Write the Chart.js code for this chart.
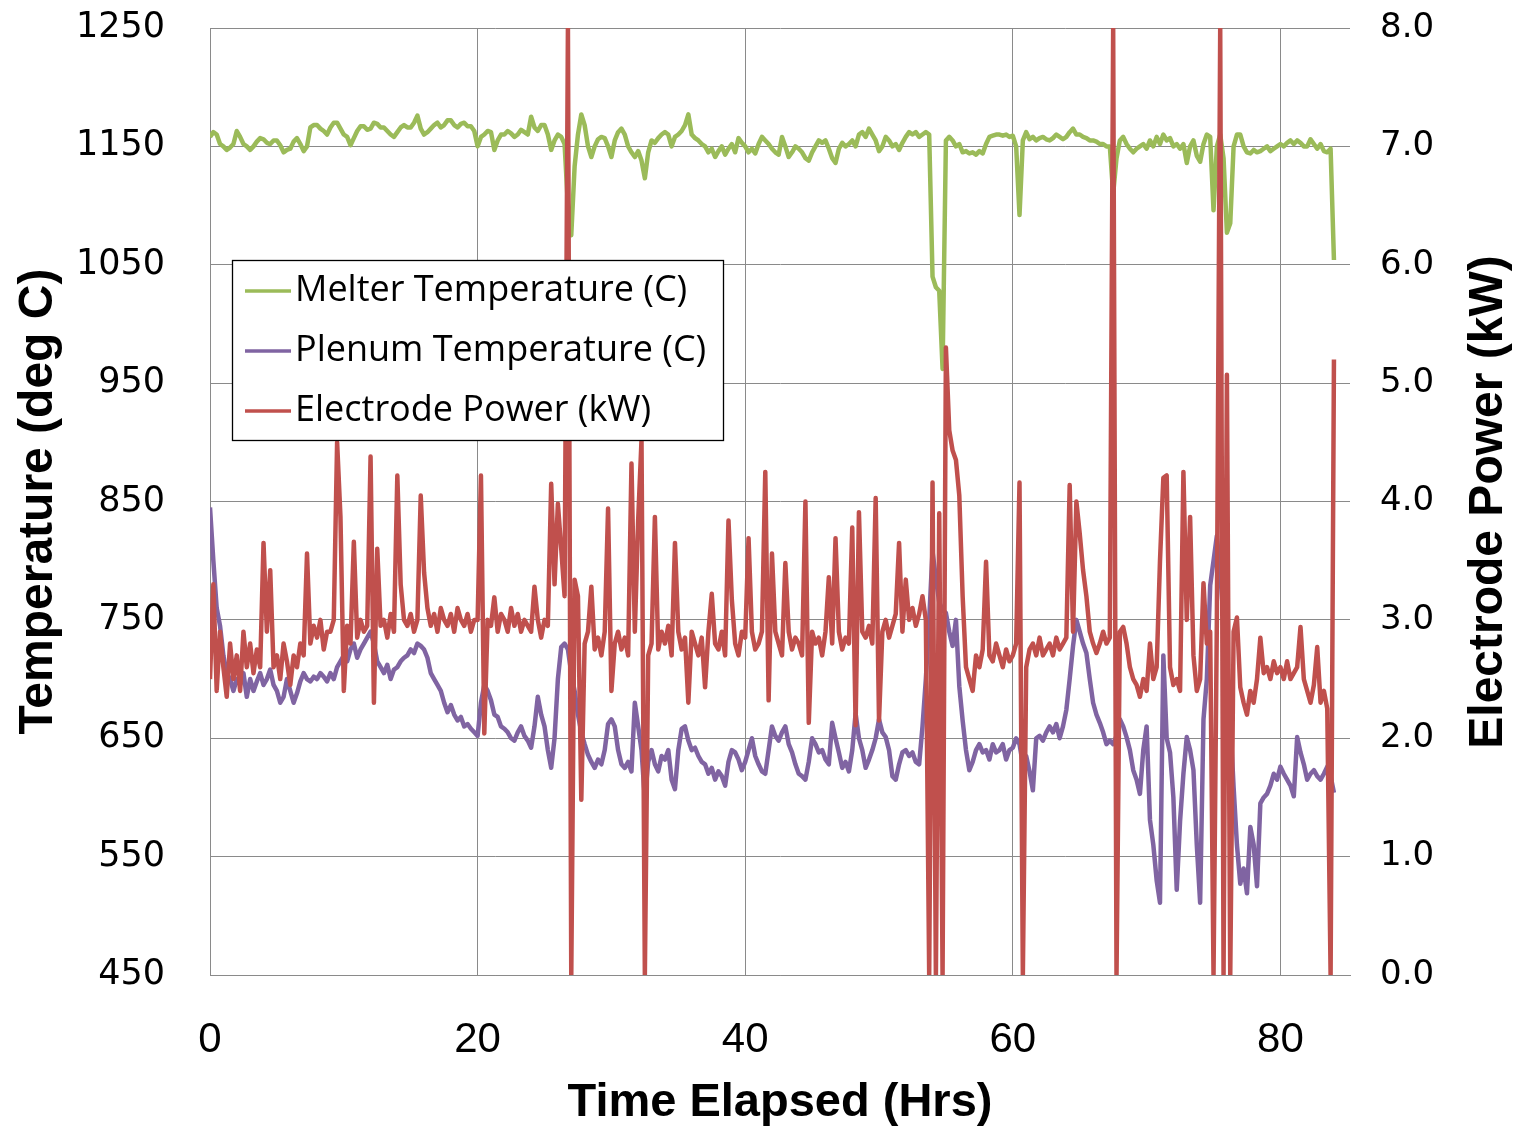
<!DOCTYPE html>
<html>
<head>
<meta charset="utf-8">
<script src="https://cdn.jsdelivr.net/npm/chart.js@4.4.1/dist/chart.umd.min.js"></script>
<style>
  body { margin: 0; background: #fff; }
  canvas { display: block; }
</style>
</head>
<body>
<canvas id="meltChart" width="1514" height="1133"></canvas>
<script>
// samples every 0.25 hr, one row = one hour
const STEP = 0.25;

const melterTemp = [
  1158, 1162, 1160, 1152,  1150, 1147, 1149, 1152,  1163, 1158, 1152, 1150,
  1147, 1150, 1154, 1157,  1156, 1153, 1152, 1155,  1155, 1151, 1145, 1147,
  1148, 1154, 1157, 1152,  1146, 1150, 1166, 1168,  1168, 1165, 1163, 1160,
  1166, 1170, 1170, 1165,  1160, 1158, 1151, 1157,  1163, 1167, 1167, 1164,
  1165, 1170, 1169, 1166,  1166, 1163, 1160, 1158,  1162, 1166, 1168, 1166,
  1166, 1170, 1176, 1165,  1160, 1162, 1165, 1168,  1170, 1166, 1168, 1172,
  1172, 1168, 1166, 1169,  1170, 1167, 1167, 1163,  1150, 1158, 1160, 1163,
  1162, 1147, 1155, 1160,  1160, 1163, 1161, 1158,  1160, 1164, 1162, 1160,
  1175, 1166, 1163, 1168,  1168, 1160, 1147, 1155,  1160, 1158, 1152, 1100,
  1075, 1133, 1160, 1177,  1168, 1150, 1141, 1150,  1156, 1158, 1157, 1150,
  1141, 1155, 1162, 1165,  1160, 1150, 1145, 1141,  1146, 1138, 1123, 1145,
  1155, 1153, 1157, 1160,  1162, 1160, 1150, 1158,  1160, 1163, 1168, 1177,
  1160, 1157, 1155, 1152,  1150, 1145, 1148, 1141,  1146, 1150, 1143, 1148,
  1152, 1145, 1157, 1153,  1150, 1145, 1148, 1144,  1152, 1158, 1155, 1152,
  1148, 1145, 1143, 1158,  1150, 1141, 1145, 1150,  1148, 1145, 1140, 1138,
  1145, 1150, 1155, 1153,  1155, 1148, 1140, 1136,  1148, 1153, 1150, 1152,
  1155, 1150, 1160, 1162,  1158, 1165, 1160, 1155,  1146, 1150, 1158, 1155,
  1150, 1152, 1147, 1153,  1158, 1162, 1160, 1162,  1158, 1160, 1162, 1160,
  1040, 1031, 1028, 962,   1155, 1158, 1155, 1150,  1152, 1145, 1146, 1144,
  1145, 1143, 1146, 1144,  1152, 1158, 1159, 1160,  1160, 1159, 1160, 1158,
  1159, 1150, 1092, 1155,  1162, 1156, 1158, 1155,  1157, 1158, 1156, 1155,
  1157, 1160, 1158, 1156,  1158, 1162, 1165, 1160,  1160, 1158, 1157, 1155,
  1155, 1154, 1152, 1152,  1150, 1150, 1110, 1140,  1155, 1158, 1152, 1148,
  1145, 1148, 1150, 1152,  1148, 1155, 1150, 1158,  1152, 1160, 1155, 1157,
  1150, 1152, 1148, 1152,  1136, 1150, 1155, 1142,  1137, 1152, 1160, 1158,
  1096, 1150, 1160, 1140,  1077, 1085, 1150, 1160,  1160, 1150, 1145, 1144,
  1147, 1145, 1146, 1148,  1150, 1146, 1148, 1150,  1152, 1150, 1153, 1155,
  1152, 1155, 1153, 1150,  1150, 1156, 1152, 1148,  1152, 1146, 1145, 1148,
  1054
];

const plenumTemp = [
  845, 800, 760, 745,  720, 705, 700, 690,  700, 695, 705, 685,
  700, 690, 698, 705,  695, 700, 708, 695,  690, 680, 685, 700,
  690, 680, 688, 698,  705, 700, 698, 702,  700, 705, 702, 698,
  705, 700, 710, 715,  720, 715, 725, 730,  718, 725, 730, 735,
  740, 730, 715, 710,  705, 712, 700, 708,  710, 715, 718, 720,
  725, 722, 730, 728,  725, 718, 705, 700,  695, 690, 680, 672,
  678, 670, 665, 668,  660, 662, 658, 655,  652, 680, 695, 690,
  682, 670, 668, 660,  658, 655, 650, 648,  655, 660, 652, 648,
  642, 660, 685, 670,  660, 640, 625, 650,  700, 727, 730, 725,
  705, 690, 670, 655,  645, 636, 630, 625,  632, 628, 640, 662,
  666, 660, 640, 628,  625, 630, 622, 680,  660, 640, 598, 630,
  640, 628, 622, 635,  632, 640, 615, 607,  640, 658, 660, 648,
  640, 642, 635, 630,  628, 620, 625, 615,  622, 618, 610, 630,
  640, 638, 632, 623,  630, 640, 650, 635,  628, 622, 620, 640,
  660, 652, 648, 655,  660, 645, 638, 628,  620, 618, 615, 630,
  650, 645, 638, 640,  632, 628, 663, 650,  638, 625, 630, 622,
  640, 671, 650, 640,  625, 632, 640, 650,  666, 655, 651, 640,
  618, 615, 628, 638,  640, 635, 638, 630,  628, 660, 700, 750,
  808, 785, 765, 758,  756, 740, 728, 750,  694, 665, 640, 623,
  630, 640, 645, 638,  640, 632, 645, 638,  640, 645, 632, 640,
  642, 650, 645, 628,  635, 622, 606, 650,  652, 648, 655, 660,
  655, 662, 650, 660,  674, 700, 728, 750,  740, 730, 722, 700,
  680, 670, 663, 655,  645, 648, 645, 652,  666, 660, 651, 640,
  623, 615, 603, 640,  660, 581, 560, 530,  511, 720, 650, 638,
  600, 522, 580, 620,  651, 640, 623, 560,  511, 666, 700, 779,
  800, 821, 790, 750,  700, 666, 609, 560,  527, 540, 519, 575,
  560, 525, 595, 600,  603, 610, 620, 615,  626, 620, 615, 610,
  601, 651, 638, 628,  615, 620, 623, 618,  615, 620, 626, 618,
  604
];

const electrodePower = [
  2.5, 3.3, 2.4, 2.9,     2.6, 2.35, 2.8, 2.5,    2.7, 2.4, 2.9, 2.6,
  2.8, 2.55, 2.75, 2.6,   3.65, 2.9, 3.42, 2.6,   2.7, 2.5, 2.8, 2.65,
  2.45, 2.7, 2.6, 2.8,    2.7, 3.56, 2.8, 2.95,   2.85, 3.0, 2.75, 2.9,
  2.9, 3.0, 4.5, 3.87,    2.4, 2.95, 2.8, 3.66,   2.85, 3.0, 2.9, 2.95,
  4.38, 2.3, 3.6, 2.95,   3.0, 2.85, 3.05, 2.9,   4.22, 3.3, 3.0, 2.95,
  3.05, 2.9, 3.0, 4.05,   3.4, 3.1, 2.95, 3.05,   2.9, 3.1, 3.0, 2.95,
  3.05, 2.9, 3.1, 3.0,    2.95, 3.05, 2.9, 3.0,   3.0, 4.22, 2.04, 3.0,
  2.95, 3.19, 2.9, 3.05,  3.0, 2.9, 3.1, 2.95,    3.05, 2.9, 3.0, 2.95,
  2.9, 3.28, 3.0, 2.85,   3.0, 2.95, 4.15, 3.3,   3.98, 3.6, 3.2, 8.0,
  0.0, 3.34, 3.2, 1.48,   2.8, 2.9, 3.28, 2.75,   2.85, 2.7, 2.9, 3.94,
  2.4, 2.8, 2.9, 2.75,    2.85, 2.7, 4.32, 2.9,   3.84, 4.52, 0.0, 2.7,
  2.8, 3.87, 2.75, 2.9,   2.8, 2.95, 2.7, 3.65,   2.9, 2.75, 2.85, 2.3,
  2.9, 2.8, 2.7, 2.85,    2.43, 2.9, 3.22, 2.8,   2.75, 2.9, 2.7, 3.84,
  3.17, 2.8, 2.7, 2.9,    2.85, 3.69, 2.9, 2.75,  2.8, 2.9, 4.25, 2.32,
  3.56, 2.9, 2.8, 2.7,    3.48, 2.9, 2.75, 2.85,  2.8, 2.7, 4.0, 2.13,
  2.9, 2.8, 2.85, 2.7,    2.9, 3.36, 2.8, 3.69,   2.9, 2.75, 2.85, 2.8,
  3.78, 2.11, 3.91, 2.9,  2.85, 2.95, 2.8, 4.03,  2.15, 2.9, 3.0, 2.85,
  2.95, 3.05, 3.65, 2.9,  3.34, 3.0, 3.1, 2.95,   3.05, 3.2, 3.0, 0.0,
  4.16, 0.0, 3.9, 0.0,    5.3, 4.6, 4.43, 4.35,   4.05, 3.2, 2.6, 2.5,
  2.4, 2.7, 2.6, 2.75,    3.49, 2.7, 2.65, 2.8,   2.7, 2.6, 2.75, 2.65,
  2.7, 2.8, 4.16, 0.0,    2.6, 2.75, 2.8, 2.7,    2.85, 2.7, 2.75, 2.8,
  2.7, 2.85, 2.75, 2.8,   2.85, 4.14, 2.9, 4.0,   3.73, 3.42, 3.2, 2.9,
  2.8, 2.72, 2.8, 2.9,    2.8, 2.85, 8.0, 0.0,    2.9, 2.94, 2.8, 2.6,
  2.5, 2.45, 2.35, 2.5,   2.4, 2.8, 2.5, 2.6,     3.5, 4.2, 4.22, 2.6,
  2.45, 2.5, 2.4, 4.25,   3.0, 3.87, 2.7, 2.4,    2.5, 3.31, 2.8, 2.9,
  0.0, 3.0, 8.0, 0.0,     5.07, 0.0, 2.9, 3.02,   2.43, 2.3, 2.2, 2.4,
  2.3, 2.5, 2.85, 2.55,   2.6, 2.5, 2.65, 2.55,   2.6, 2.5, 2.65, 2.5,
  2.55, 2.6, 2.94, 2.5,   2.4, 2.3, 2.45, 2.77,   2.3, 2.4, 2.25, 0.0,
  5.2
];

const seriesNames = ['Melter Temperature (C)', 'Plenum Temperature (C)', 'Electrode Power (kW)'];
const seriesColors = ['#9bbb59', '#8064a2', '#c0504d'];
const xTicks = [0, 20, 40, 60, 80];

const toPoints = values => values.map((v, i) => ({ x: i * STEP, y: v }));

const gridGray = '#8a8a8a';
const titleFont = '"Liberation Sans", Arial, sans-serif';

// legend box in the upper left of the plot, and the right axis title reading upwards
const legendBox = {
    id: 'legendBox',
    afterDraw(chart) {
        const ctx = chart.ctx;
        ctx.save();
        ctx.fillStyle = '#fff';
        ctx.fillRect(232, 260, 491, 180);
        ctx.strokeStyle = '#000';
        ctx.lineWidth = 1.3;
        ctx.strokeRect(232.5, 260.5, 491, 180);
        ctx.font = '36px "Open Sans", sans-serif';
        ctx.textBaseline = 'middle';
        chart.data.datasets.forEach((ds, i) => {
            const y = 291 + i * 60;
            ctx.strokeStyle = ds.borderColor;
            ctx.lineWidth = 3.5;
            ctx.beginPath();
            ctx.moveTo(245, y);
            ctx.lineTo(291, y);
            ctx.stroke();
            ctx.fillStyle = '#000';
            ctx.fillText(ds.label, 295, y);
        });

        ctx.translate(1489, 502);
        ctx.rotate(-Math.PI / 2);
        ctx.font = 'bold 48px ' + titleFont;
        ctx.textAlign = 'center';
        ctx.textBaseline = 'middle';
        ctx.fillText('Electrode Power (kW)', 0, 0);
        ctx.restore();
    }
};

const ctx = document.getElementById('meltChart').getContext('2d');
new Chart(ctx, {
    type: 'line',
    data: {
        datasets: [
            { label: seriesNames[0], data: toPoints(melterTemp), borderColor: seriesColors[0], yAxisID: 'y', order: 2 },
            { label: seriesNames[1], data: toPoints(plenumTemp), borderColor: seriesColors[1], yAxisID: 'y', order: 1 },
            { label: seriesNames[2], data: toPoints(electrodePower), borderColor: seriesColors[2], yAxisID: 'y1', order: 0 }
        ]
    },
    options: {
        responsive: false,
        animation: false,
        events: [],
        layout: { padding: { top: 28, left: 0, right: 0, bottom: 0 } },
        elements: {
            point: { radius: 0 },
            line: { borderWidth: 4.5, tension: 0, borderJoinStyle: 'round', fill: false }
        },
        plugins: {
            legend: { display: false },
            tooltip: { enabled: false }
        },
        scales: {
            x: {
                type: 'linear',
                min: 0,
                max: 85.2,
                afterBuildTicks: scale => {
                    scale.ticks = xTicks.map(v => ({ value: v }));
                },
                afterFit: scale => { scale.height = 158; },
                grid: { color: gridGray, drawTicks: false },
                border: { color: gridGray },
                ticks: {
                    color: '#000',
                    padding: 40,
                    font: { family: titleFont, size: 42 }
                },
                title: {
                    display: true,
                    text: 'Time Elapsed (Hrs)',
                    color: '#000',
                    padding: { top: 0, bottom: 2 },
                    font: { family: titleFont, size: 47, weight: 'bold' }
                }
            },
            y: {
                position: 'left',
                min: 450,
                max: 1250,
                afterFit: scale => { scale.width = 210; },
                // gap between labels and plot comes from an invisible tick mark,
                // so the label padding does not push the plot area down
                grid: { color: gridGray, drawTicks: true, tickLength: 45, tickColor: 'rgba(0,0,0,0)' },
                border: { color: gridGray },
                ticks: {
                    stepSize: 100,
                    color: '#000',
                    padding: 0,
                    font: { family: 'DejaVu Sans', size: 35 },
                    callback: v => String(v)
                },
                title: {
                    display: true,
                    text: 'Temperature (deg C)',
                    color: '#000',
                    padding: { top: 10, bottom: 0 },
                    font: { family: titleFont, size: 48, weight: 'bold' }
                }
            },
            y1: {
                position: 'right',
                min: 0,
                max: 8,
                afterFit: scale => { scale.width = 164; },
                grid: { display: true, drawOnChartArea: false, drawTicks: true, tickLength: 30, tickColor: 'rgba(0,0,0,0)' },
                border: { display: false },
                ticks: {
                    stepSize: 1,
                    color: '#000',
                    padding: 0,
                    font: { family: 'DejaVu Sans', size: 34 },
                    callback: v => v.toFixed(1)
                }
            }
        }
    },
    plugins: [legendBox]
});
</script>
</body>
</html>
